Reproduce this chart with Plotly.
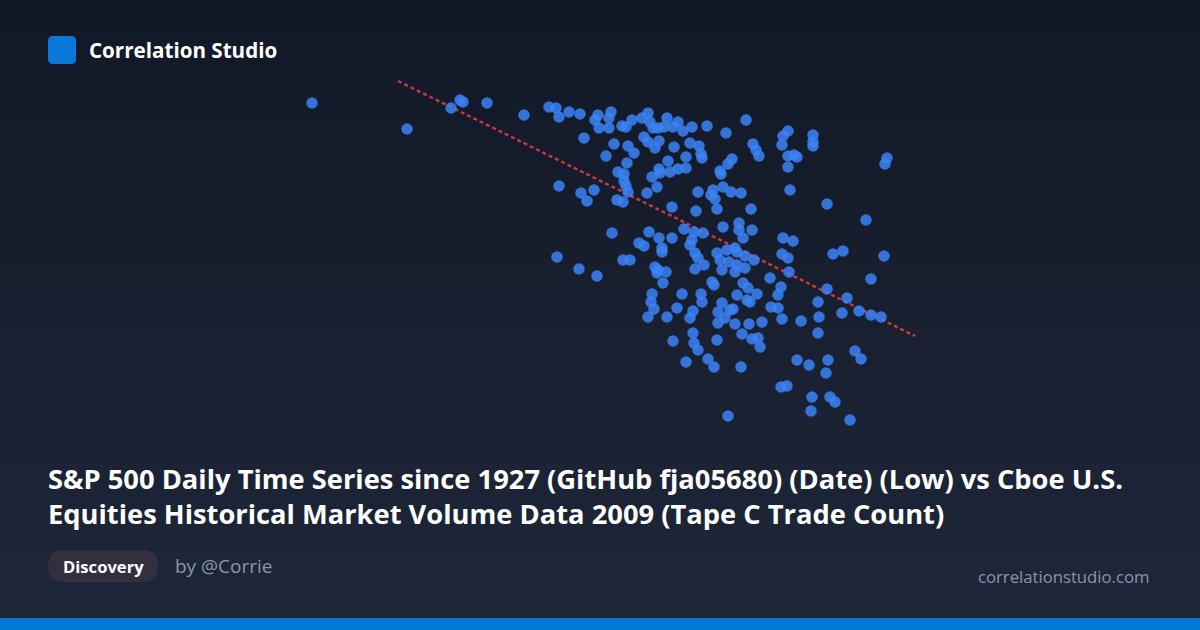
import plotly.graph_objects as go

# Estimated values (x: Low, y: Tape C Trade Count, arbitrary units)
low = [312, 407, 451, 460, 463, 487, 524, 549, 556, 559, 569, 580, 598, 595, 599, 584, 606, 559, 581, 594,
       587, 557, 611, 609, 609, 622, 626, 632, 642, 648, 650, 653, 658, 664, 667, 644, 648, 659, 655, 614,
       628, 634, 627, 668, 618, 624, 624, 626, 628, 652, 659, 660, 657, 647, 617, 623, 673, 678, 683, 692,
       707, 746, 726, 674, 690, 699, 701, 702, 686, 686, 678, 670, 698, 696, 672, 711, 713, 715, 723, 731,
       741, 717, 720, 721, 728, 732, 753, 756, 759, 782, 783, 788, 788, 794, 797, 788, 813, 813, 813, 790,
       827, 866, 887, 885, 751, 723, 739, 739, 743, 752, 612, 649, 639, 644, 659, 662, 662, 672, 684, 694,
       703, 692, 690, 783, 793, 782, 788, 833, 843, 884, 623, 630, 717, 727, 735, 737, 745, 754, 720, 579,
       597, 655, 658, 657, 666, 663, 695, 698, 704, 695, 729, 737, 735, 722, 745, 712, 714, 743, 748, 682,
       701, 652, 651, 654, 648, 702, 677, 667, 693, 690, 722, 718, 718, 730, 733, 725, 693, 694, 698, 673,
       686, 708, 714, 717, 737, 757, 747, 750, 770, 781, 778, 771, 778, 782, 762, 749, 735, 742, 752, 758,
       760, 741, 789, 801, 797, 809, 828, 826, 855, 861, 818, 819, 818, 827, 847, 842, 859, 871, 881, 871,
       781, 787, 812, 830, 835, 811, 850, 728]
trade_count = [397, 371, 392, 400, 398, 397, 385, 393, 392, 383, 388, 386, 385, 380, 372, 362, 344, 314, 307, 310,
               299, 243, 388, 382, 372, 374, 373, 380, 382, 387, 378, 372, 372, 373, 382, 363, 358, 359, 352, 356,
               354, 347, 337, 339, 328, 326, 319, 314, 308, 323, 331, 327, 313, 307, 300, 298, 373, 378, 369, 373,
               374, 380, 367, 353, 357, 354, 346, 342, 343, 332, 331, 328, 308, 289, 293, 305, 310, 301, 313, 308,
               307, 291, 329, 326, 336, 341, 356, 350, 344, 355, 364, 369, 344, 345, 343, 333, 365, 358, 354, 310,
               296, 280, 342, 336, 291, 273, 277, 270, 262, 270, 267, 268, 257, 254, 262, 252, 248, 262, 271, 268,
               267, 260, 255, 262, 259, 246, 242, 246, 249, 244, 240, 240, 247, 250, 252, 248, 244, 240, 240, 231,
               224, 233, 230, 227, 228, 217, 247, 242, 235, 231, 238, 235, 228, 230, 232, 218, 215, 217, 212, 206,
               206, 206, 198, 191, 183, 198, 192, 183, 189, 182, 197, 188, 177, 190, 191, 182, 167, 157, 150, 159,
               138, 141, 133, 160, 205, 206, 200, 198, 222, 213, 205, 193, 192, 181, 178, 176, 176, 166, 161, 162,
               153, 133, 228, 179, 140, 135, 140, 127, 149, 141, 198, 183, 167, 211, 202, 187, 189, 185, 183, 221,
               113, 114, 103, 103, 98, 89, 80, 84]

# Trend line end points
trend_low = [398, 915]
trend_count = [419, 164]

title_lines = ["S&P 500 Daily Time Series since 1927 (GitHub fja05680) (Date) (Low) vs Cboe U.S.",
               "Equities Historical Market Volume Data 2009 (Tape C Trade Count)"]

W, H = 1200, 630


def px(x):
    return x / W


def py(y):
    return 1 - y / H


fig = go.Figure()

fig.add_trace(go.Scatter(
    x=trend_low, y=trend_count, mode="lines",
    line=dict(color="rgba(224,58,64,0.92)", width=2.4, dash="4px,3px"),
    hoverinfo="skip", showlegend=False,
))
fig.add_trace(go.Scatter(
    x=low, y=trade_count, mode="markers",
    marker=dict(size=11.5, color="rgba(59,130,246,0.85)", line=dict(width=0)),
    showlegend=False,
))

# background gradient bands
shapes = []
n = 63
top = (17, 24, 39)
bot = (30, 39, 57)
for i in range(n):
    t = i / (n - 1)
    c = tuple(round(top[k] + (bot[k] - top[k]) * t) for k in range(3))
    shapes.append(dict(type="rect", xref="paper", yref="paper", x0=0, x1=1,
                       y0=1 - (i + 1) / n, y1=1 - i / n, line=dict(width=0),
                       fillcolor="rgb(%d,%d,%d)" % c, layer="below"))
# bottom blue bar
shapes.append(dict(type="rect", xref="paper", yref="paper", x0=0, x1=1, y0=0, y1=12 / H,
                   line=dict(width=0), fillcolor="#0078d4", layer="above"))


def rounded(x0, y0, x1, y1, r):
    return ("M {a},{t} L {b},{t} Q {R},{t} {R},{t2} L {R},{b2} Q {R},{B} {b},{B} "
            "L {a},{B} Q {L},{B} {L},{b2} L {L},{t2} Q {L},{t} {a},{t} Z").format(
        a=px(x0 + r), b=px(x1 - r), L=px(x0), R=px(x1),
        t=py(y0), t2=py(y0 + r), b2=py(y1 - r), B=py(y1))


# logo square
shapes.append(dict(type="path", xref="paper", yref="paper", path=rounded(48, 36, 76, 64, 5),
                   line=dict(width=0), fillcolor="#0a78d8", layer="above"))
# pill
shapes.append(dict(type="path", xref="paper", yref="paper", path=rounded(48, 550, 158, 582, 16),
                   line=dict(width=0), fillcolor="#322f3e", layer="above"))

annotations = [
    dict(text="<b>Correlation Studio</b>", x=px(87), y=py(50), xref="paper", yref="paper",
         xanchor="left", yanchor="middle", showarrow=False,
         font=dict(family="Open Sans", size=20.6, color="#ffffff")),
    dict(text="<br>".join("<b>" + s + "</b>" for s in title_lines), x=px(46), y=py(496),
         xref="paper", yref="paper", xanchor="left", yanchor="middle", align="left", showarrow=False,
         font=dict(family="Open Sans", size=27.3, color="#ffffff")),
    dict(text="<b>Discovery</b>", x=px(103), y=py(566), xref="paper", yref="paper",
         xanchor="center", yanchor="middle", showarrow=False,
         font=dict(family="Open Sans", size=16.6, color="#ffffff")),
    dict(text="by @Corrie", x=px(173), y=py(566), xref="paper", yref="paper",
         xanchor="left", yanchor="middle", showarrow=False,
         font=dict(family="Open Sans", size=19, color="#8b95a8")),
    dict(text="correlationstudio.com", x=px(1151), y=py(576), xref="paper", yref="paper",
         xanchor="right", yanchor="middle", showarrow=False,
         font=dict(family="Open Sans", size=16.7, color="#8b95a8")),
]

fig.update_layout(
    width=W, height=H,
    margin=dict(l=0, r=0, t=0, b=0),
    paper_bgcolor="#111827", plot_bgcolor="rgba(0,0,0,0)",
    xaxis=dict(range=[0, 1200], visible=False, fixedrange=True),
    yaxis=dict(range=[-130, 500], visible=False, fixedrange=True),
    shapes=shapes, annotations=annotations,
    showlegend=False,
)

fig.write_html("out.html", config={"displayModeBar": False})

with open("out.html", "r", encoding="utf-8") as f:
    html = f.read()
html = html.replace("<head>", "<head><style>html,body{margin:0;padding:0;background:#111827;overflow:hidden;}</style>", 1)
with open("out.html", "w", encoding="utf-8") as f:
    f.write(html)
